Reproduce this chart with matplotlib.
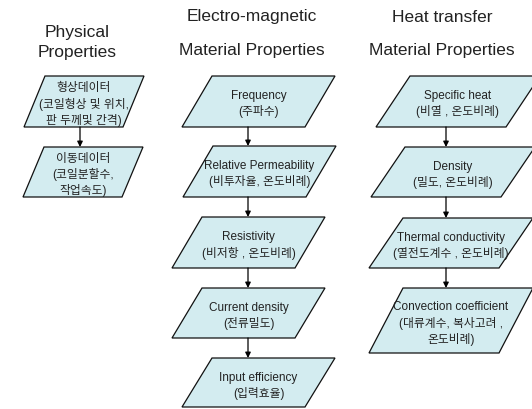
#!/usr/bin/env python3
# -*- coding: utf-8 -*-

import matplotlib
matplotlib.use("Agg")
import matplotlib.pyplot as plt
from matplotlib.patches import Polygon

# Latin in an Arial-like face, Hangul falls through to Noto CJK KR
plt.rcParams["font.family"] = ["Liberation Sans", "Noto Sans CJK KR", "DejaVu Sans"]

# column titles
physical_title = ["Physical", "Properties"]
em_title = ["Electro-magnetic", "Material Properties"]
heat_title = ["Heat transfer", "Material Properties"]

# box labels per column
physical_boxes = [
    "형상데이터\n(코일형상 및 위치,\n판 두께및 간격)",
    "이동데이터\n(코일분할수,\n작업속도)",
]
em_boxes = [
    "Frequency\n(주파수)",
    "Relative Permeability\n(비투자율, 온도비례)",
    "Resistivity\n(비저항 , 온도비례)",
    "Current density\n(전류밀도)",
    "Input efficiency\n(입력효율)",
]
heat_boxes = [
    "Specific heat\n(비열 , 온도비례)",
    "Density\n(밀도, 온도비례)",
    "Thermal conductivity\n(열전도계수 , 온도비례)",
    "Convection coefficient\n(대류계수, 복사고려 ,\n온도비례)",
]

FILL = "#d3ecf0"

# layout (pixels, y downward): top y, bottom y, top-left x, top width, skew
layout = {
    "phys": dict(tops=[76, 147], bots=[127, 197], xl=[45, 44], w=99, skew=21),
    "em": dict(tops=[76, 146, 217, 288, 358], bots=[127, 197, 268, 338, 407],
               xl=[212, 213, 202, 202, 212], w=123, skew=30),
    "heat": dict(tops=[76, 147, 218, 288], bots=[127, 197, 268, 353],
                 xl=[410, 405, 403, 403], w=130, skew=34),
}
titles_pos = {
    "phys": (77, [32, 53]),
    "em": (252, [17, 50]),
    "heat": (442, [17, 50]),
}
arrow_x = {"phys": 80, "em": 248, "heat": 446}


def draw_column(ax, key, title, labels):
    cx, ty = titles_pos[key]
    for t, y in zip(title, ty):
        ax.text(cx, y, t, ha="center", va="center", fontsize=12.5, color="#222222")
    L = layout[key]
    for i, lab in enumerate(labels):
        top, bot, xl = L["tops"][i], L["bots"][i], L["xl"][i]
        w, sk = L["w"], L["skew"]
        pts = [(xl, top), (xl + w, top), (xl + w - sk, bot), (xl - sk, bot)]
        ax.add_patch(Polygon(pts, closed=True, facecolor=FILL,
                             edgecolor="#111111", lw=0.9))
        xc = xl + w / 2 - sk / 2
        ax.text(xc, (top + bot) / 2 + 3, lab, ha="center", va="center",
                fontsize=8.5, linespacing=1.3, color="#222222")
        if i + 1 < len(labels):
            ax.annotate("", xy=(arrow_x[key], L["tops"][i + 1]),
                        xytext=(arrow_x[key], bot),
                        arrowprops=dict(arrowstyle="-|>", color="black",
                                        lw=0.9, mutation_scale=8,
                                        shrinkA=0, shrinkB=0))


def main():
    fig = plt.figure(figsize=(5.32, 4.09), dpi=100)
    ax = fig.add_axes([0, 0, 1, 1])
    ax.set_xlim(0, 532)
    ax.set_ylim(409, 0)
    ax.axis("off")
    draw_column(ax, "phys", physical_title, physical_boxes)
    draw_column(ax, "em", em_title, em_boxes)
    draw_column(ax, "heat", heat_title, heat_boxes)
    fig.savefig("out.png", dpi=100, facecolor="white")
    plt.close(fig)


if __name__ == "__main__":
    main()
